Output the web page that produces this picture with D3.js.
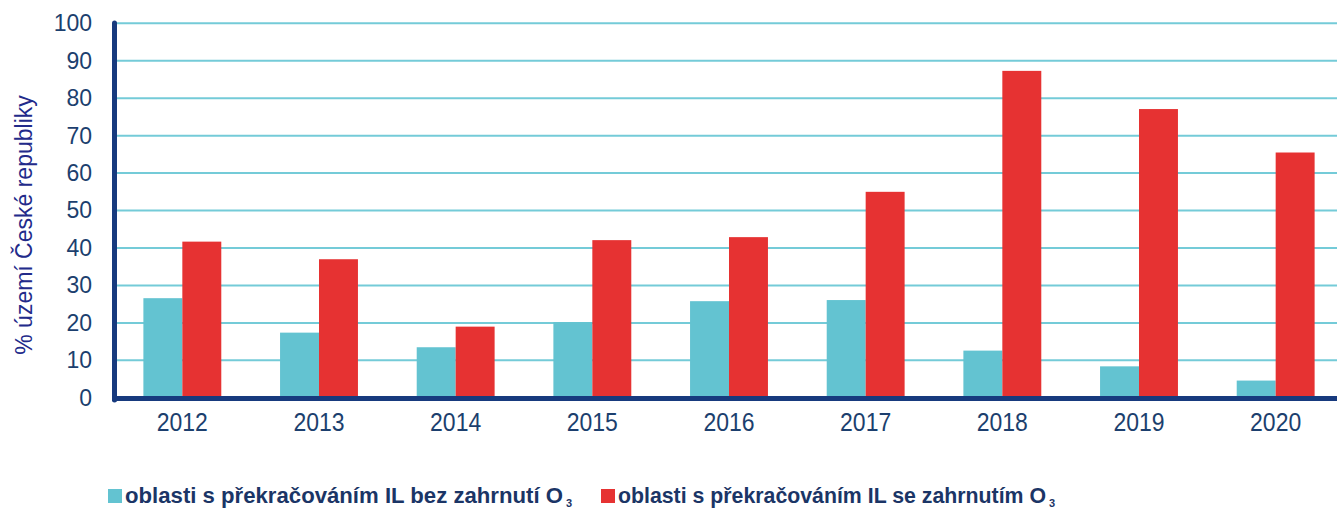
<!DOCTYPE html>
<html>
<head>
<meta charset="utf-8">
<script src="https://cdn.jsdelivr.net/npm/d3@7"></script>
<style>
  body { margin: 0; background: #fff; }
  text { font-family: "Liberation Sans", Arial, sans-serif; }
</style>
</head>
<body>
<div id="chart"></div>
<script>
const width = 1337;
const height = 508;

// data
const years = ["2012", "2013", "2014", "2015", "2016", "2017", "2018", "2019", "2020"];
const bezO3 = [26.6, 17.4, 13.5, 20.2, 25.8, 26.1, 12.6, 8.4, 4.6];
const seO3 = [41.7, 37.0, 19.0, 42.1, 42.9, 55.0, 87.3, 77.1, 65.5];
const seriesNames = [
  "oblasti s překračováním IL bez zahrnutí O",
  "oblasti s překračováním IL se zahrnutím O"
];
const colors = ["#63c3d1", "#e63232"];
const yTicks = [0, 10, 20, 30, 40, 50, 60, 70, 80, 90, 100];

const svg = d3.select("#chart")
  .append("svg")
  .attr("width", width)
  .attr("height", height);

const x = d3.scaleBand()
  .domain(years)
  .range([114, 1344])
  .paddingInner(0.43)
  .paddingOuter(0.215);

const x1 = d3.scaleBand()
  .domain([0, 1])
  .range([0, x.bandwidth()]);

const y = d3.scaleLinear()
  .domain([0, 100])
  .range([397.8, 23.3]);

// mřížka
svg.append("g")
  .selectAll("line")
  .data(yTicks.filter(d => d > 0))
  .enter()
  .append("line")
  .attr("x1", 117)
  .attr("x2", width)
  .attr("y1", d => y(d))
  .attr("y2", d => y(d))
  .attr("stroke", "#74cbd8")
  .attr("stroke-width", 2);

// sloupce
const groups = svg.append("g")
  .selectAll("g")
  .data(years)
  .enter()
  .append("g")
  .attr("transform", d => `translate(${x(d)},0)`);

groups.selectAll("rect")
  .data((d, i) => [bezO3[i], seO3[i]])
  .enter()
  .append("rect")
  .attr("x", (d, j) => x1(j))
  .attr("width", x1.bandwidth())
  .attr("y", d => y(d))
  .attr("height", d => y(0) - y(d))
  .attr("fill", (d, j) => colors[j]);

// osy
svg.append("line")
  .attr("x1", 114.5).attr("x2", 114.5)
  .attr("y1", 23).attr("y2", 400)
  .attr("stroke", "#173a7e")
  .attr("stroke-width", 5)
  .attr("stroke-linecap", "round");

svg.append("line")
  .attr("x1", 112).attr("x2", width)
  .attr("y1", 398.5).attr("y2", 398.5)
  .attr("stroke", "#173a7e")
  .attr("stroke-width", 5);

// popisky osy y
const yAxis = svg.append("g")
  .attr("transform", "translate(112,0)")
  .call(d3.axisLeft(y).tickValues(yTicks).tickSize(0).tickPadding(20));
yAxis.select(".domain").remove();
yAxis.selectAll("text")
  .attr("fill", "#1c3f6e")
  .style("font-size", "23px")
  .style("font-family", "Liberation Sans, Arial, sans-serif");

// popisky osy x
const xAxis = svg.append("g")
  .attr("transform", "translate(0,401)")
  .call(d3.axisBottom(x).tickSize(0).tickPadding(12));
xAxis.select(".domain").remove();
xAxis.selectAll("text")
  .attr("fill", "#1c3f6e")
  .attr("transform", "scale(0.92,1)")
  .style("font-size", "25px")
  .style("font-family", "Liberation Sans, Arial, sans-serif");

// název osy y
svg.append("text")
  .attr("transform", "translate(32,225) rotate(-90)")
  .attr("text-anchor", "middle")
  .attr("fill", "#222a8a")
  .style("font-size", "23px")
  .text("% území České republiky");

// legenda
const legendX = [108, 601];
const legendW = [438, 428];
const legend = svg.append("g")
  .selectAll("g")
  .data(seriesNames)
  .enter()
  .append("g")
  .attr("transform", (d, i) => `translate(${legendX[i]},0)`);

legend.append("rect")
  .attr("x", 0)
  .attr("y", 489)
  .attr("width", 14)
  .attr("height", 14)
  .attr("fill", (d, i) => colors[i]);

legend.append("text")
  .attr("x", 17)
  .attr("y", 503)
  .attr("textLength", (d, i) => legendW[i])
  .attr("lengthAdjust", "spacingAndGlyphs")
  .attr("fill", "#1b3566")
  .style("font-size", "22px")
  .style("font-weight", "bold")
  .text(d => d);

legend.append("text")
  .attr("x", (d, i) => 17 + legendW[i] + 3)
  .attr("y", 507)
  .attr("fill", "#1b3566")
  .style("font-size", "11px")
  .style("font-weight", "bold")
  .text("3");
</script>
</body>
</html>
